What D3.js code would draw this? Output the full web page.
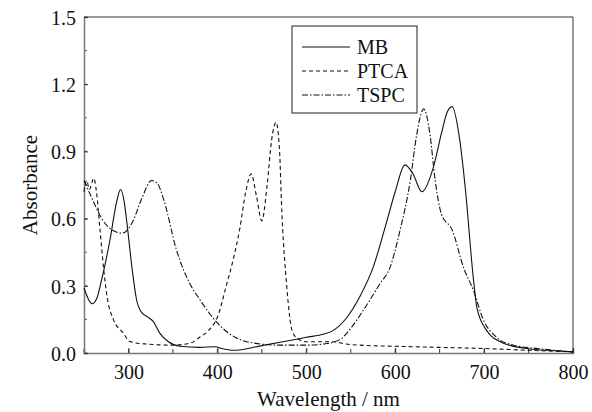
<!DOCTYPE html>
<html>
<head>
<meta charset="utf-8">
<script src="https://cdn.jsdelivr.net/npm/d3@7"></script>
<style>
  body { margin: 0; background: #fff; }
  svg text { font-family: "Times New Roman", Times, Tinos, "Liberation Serif", "Noto Serif", "DejaVu Serif", serif; fill: #111; }
</style>
</head>
<body>
<div id="chart"></div>
<script>
// absorbance spectra
var mbWl  = [250, 255, 259, 264, 270, 279, 287, 291, 295, 298, 304, 309, 315, 322, 328, 335, 345, 358, 380, 398, 405, 418, 450, 480, 500, 520, 530, 545, 560, 575, 590, 600, 611, 620, 630, 643, 652, 658, 664, 673, 679, 688, 692, 703, 721, 748, 780, 800];
var mbAbs = [0.29, 0.24, 0.22, 0.24, 0.33, 0.50, 0.68, 0.73, 0.68, 0.59, 0.38, 0.24, 0.18, 0.16, 0.14, 0.09, 0.05, 0.03, 0.025, 0.028, 0.02, 0.012, 0.033, 0.055, 0.07, 0.085, 0.10, 0.155, 0.25, 0.38, 0.58, 0.72, 0.84, 0.80, 0.72, 0.83, 0.98, 1.07, 1.10, 0.94, 0.73, 0.33, 0.20, 0.10, 0.045, 0.02, 0.01, 0.005];

var ptcaWl  = [250, 253, 256, 261, 264, 268, 272, 276, 283, 294, 302, 320, 350, 370, 380, 390, 401, 410, 418, 425, 432, 438, 444, 450, 456, 461, 466, 470, 472, 478, 484, 490, 500, 530, 545, 560, 600, 650, 700, 750, 800];
var ptcaAbs = [0.72, 0.77, 0.73, 0.78, 0.72, 0.55, 0.38, 0.25, 0.15, 0.09, 0.05, 0.04, 0.035, 0.045, 0.07, 0.10, 0.17, 0.30, 0.42, 0.55, 0.72, 0.80, 0.70, 0.59, 0.75, 0.95, 1.03, 0.90, 0.68, 0.30, 0.10, 0.065, 0.05, 0.05, 0.04, 0.035, 0.03, 0.025, 0.02, 0.012, 0.005];

var tspcWl  = [250, 259, 270, 278, 293, 304, 315, 326, 332, 340, 354, 369, 380, 401, 420, 440, 470, 500, 520, 538, 550, 564, 583, 594, 605, 617, 624, 632, 639, 645, 652, 664, 677, 688, 699, 714, 733, 760, 800];
var tspcAbs = [0.77, 0.69, 0.60, 0.56, 0.535, 0.58, 0.69, 0.77, 0.76, 0.68, 0.46, 0.31, 0.24, 0.13, 0.07, 0.045, 0.035, 0.035, 0.04, 0.06, 0.11, 0.19, 0.31, 0.38, 0.54, 0.77, 0.97, 1.09, 0.98, 0.77, 0.62, 0.55, 0.38, 0.28, 0.15, 0.07, 0.035, 0.02, 0.005];

var seriesNames = ['MB', 'PTCA', 'TSPC'];
var xTicks = [300, 400, 500, 600, 700, 800];
var yTicks = [0.0, 0.3, 0.6, 0.9, 1.2, 1.5];

var margin = { top: 17, right: 19, bottom: 59, left: 84 };
var width = 592 - margin.left - margin.right;
var height = 412 - margin.top - margin.bottom;

var svg = d3.select('#chart')
  .append('svg')
    .attr('width', 592)
    .attr('height', 412);

var plot = svg.append('g')
    .attr('transform', 'translate(' + margin.left + ',' + margin.top + ')');

var x = d3.scaleLinear().domain([250, 800]).range([0, width]);
var y = d3.scaleLinear().domain([0, 1.5]).range([height, 0]);

// frame
plot.append('line').attr('x1', 0).attr('x2', width).attr('y1', 0).attr('y2', 0)
    .attr('stroke', '#333').attr('stroke-width', 1);
plot.append('line').attr('x1', width).attr('x2', width).attr('y1', 0).attr('y2', height)
    .attr('stroke', '#333').attr('stroke-width', 1);

// minor ticks, inward
plot.append('g').selectAll('line')
    .data(d3.range(250, 801, 50))
    .enter()
  .append('line')
    .attr('x1', function (d) { return x(d); })
    .attr('x2', function (d) { return x(d); })
    .attr('y1', height).attr('y2', height - 4)
    .attr('stroke', '#333');
plot.append('g').selectAll('line')
    .data(d3.range(0, 1.51, 0.15))
    .enter()
  .append('line')
    .attr('x1', 0).attr('x2', 3)
    .attr('y1', function (d) { return y(d); })
    .attr('y2', function (d) { return y(d); })
    .attr('stroke', '#555');

var xAxis = d3.axisBottom(x)
    .tickValues(xTicks)
    .tickSize(-5)
    .tickPadding(12)
    .tickFormat(d3.format('d'));

var yAxis = d3.axisLeft(y)
    .tickValues(yTicks)
    .tickSize(-4)
    .tickPadding(8)
    .tickFormat(d3.format('.1f'));

var gx = plot.append('g')
    .attr('transform', 'translate(0,' + height + ')')
    .call(xAxis);
var gy = plot.append('g').call(yAxis);

[gx, gy].forEach(function (g) {
  g.attr('font-family', null).attr('font-size', null);
  g.select('.domain').attr('stroke', '#777').attr('stroke-width', 1.5);
  g.selectAll('.tick line').attr('stroke', '#333');
  g.selectAll('.tick text')
      .style('font-size', '20px')
      .attr('fill', '#111');
});
gy.selectAll('.tick text').attr('dy', '0.36em');

// spectra
var line = d3.line()
    .x(function (d) { return x(d[0]); })
    .y(function (d) { return y(d[1]); })
    .curve(d3.curveMonotoneX);

var series = [
  { name: 'MB', pts: d3.zip(mbWl, mbAbs), dash: null },
  { name: 'PTCA', pts: d3.zip(ptcaWl, ptcaAbs), dash: '4,3' },
  { name: 'TSPC', pts: d3.zip(tspcWl, tspcAbs), dash: '6,2,1.5,2' }
];

plot.append('g').selectAll('path')
    .data(series)
    .enter()
  .append('path')
    .attr('d', function (d) { return line(d.pts); })
    .attr('fill', 'none')
    .attr('stroke', '#111')
    .attr('stroke-width', 1.1)
    .attr('stroke-dasharray', function (d) { return d.dash; });

// legend
var legend = svg.append('g').attr('transform', 'translate(292,26)');
legend.append('rect')
    .attr('width', 125).attr('height', 87)
    .attr('fill', '#fff').attr('stroke', '#444').attr('stroke-width', 1.2);
var item = legend.selectAll('g.item')
    .data(series)
    .enter()
  .append('g')
    .attr('class', 'item')
    .attr('transform', function (d, i) { return 'translate(0,' + (21 + i * 24) + ')'; });
item.append('line')
    .attr('x1', 10).attr('x2', 58)
    .attr('stroke', '#111').attr('stroke-width', 1.1)
    .attr('stroke-dasharray', function (d) { return d.dash; });
item.append('text')
    .attr('x', 65).attr('dy', '0.35em')
    .style('font-size', '20px')
    .text(function (d) { return d.name; });

// axis titles
svg.append('text')
    .attr('x', margin.left + width / 2)
    .attr('y', 406)
    .attr('text-anchor', 'middle')
    .style('font-size', '21px')
    .text('Wavelength / nm');

svg.append('text')
    .attr('transform', 'translate(37,' + (margin.top + height / 2) + ') rotate(-90)')
    .attr('text-anchor', 'middle')
    .style('font-size', '21px')
    .text('Absorbance');
</script>
</body>
</html>
